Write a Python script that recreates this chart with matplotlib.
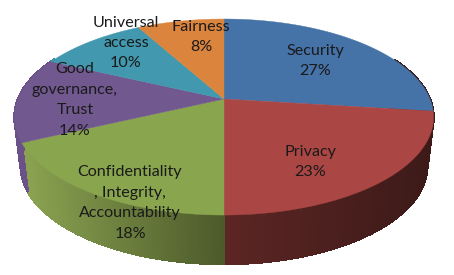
import numpy as np
import matplotlib
matplotlib.use('Agg')
import matplotlib.pyplot as plt
from matplotlib.colors import to_rgb

labels = ['Security\n27%', 'Privacy\n23%', 'Confidentiality\n, Integrity,\nAccountability\n18%',
          'Good\ngovernance,\nTrust\n14%', 'Universal\naccess\n10%', 'Fairness\n8%']
values = [27, 23, 18, 14, 10, 8]
colors = ['#4572a7', '#aa4643', '#89a54e', '#71588f', '#4198af', '#db843d']

# side wall colours, (left end, right end) of the gradient
side_colors = [('#3a1a18', '#3a1a18'), ('#5c2624', '#3c1a18'), ('#8ba351', '#4c5a2a'),
               ('#6a5288', '#6a5288'), ('#3a8aa0', '#3a8aa0'), ('#c87838', '#c87838')]
label_x = [315, 310, 130, 75, 126, 201]
label_y = [61, 162, 203, 100, 43, 37]

# tilted pie, a circle seen in perspective
cx, cy = 224, 99
a, b, k = 206, 94.7, 0.184
depth, shrink = 49, 0.97


def rim(t):
    d = 1 + k * np.sin(t)
    return a * np.cos(t) / d, -b * np.sin(t) / d


fig = plt.figure(figsize=(4.54, 2.75), dpi=100)
ax = fig.add_axes([0, 0, 1, 1])
ax.set_xlim(0, 454)
ax.set_ylim(275, 0)
ax.axis('off')

fracs = np.cumsum([0] + values) / sum(values)
starts = np.pi / 2 - 2 * np.pi * fracs[:-1]
ends = np.pi / 2 - 2 * np.pi * fracs[1:]

# side wall first, the top face covers whatever sits behind it
for s, e, pair in zip(starts, ends, side_colors):
    ts = np.linspace(s, e, 120)
    c0, c1 = np.array(to_rgb(pair[0])), np.array(to_rgb(pair[1]))
    xs, ys = rim(ts)
    xmin, xmax = xs.min(), xs.max()
    for i in range(len(ts) - 1):
        if np.sin(ts[i]) > 0.45:
            continue
        f = ((xs[i] - xmin) / (xmax - xmin)) if xmax > xmin else 0
        col = c0 + (c1 - c0) * f
        px = [xs[i], xs[i + 1], xs[i + 1] * shrink, xs[i] * shrink]
        py = [ys[i], ys[i + 1], ys[i + 1] + depth, ys[i] + depth]
        ax.fill(cx + np.array(px), cy + np.array(py), facecolor=col, edgecolor=col,
                lw=1.0, antialiased=False, zorder=1)

# top face
for s, e, col in zip(starts, ends, colors):
    ts = np.linspace(s, e, 150)
    xs, ys = rim(ts)
    ax.fill(np.r_[cx, cx + xs], np.r_[cy, cy + ys], color=col, lw=0.3, zorder=2)

for txt, x, y in zip(labels, label_x, label_y):
    ax.text(x, y, txt, ha='center', va='center', fontsize=11.6, family='Lato',
            color='#1a1a1a', linespacing=1.58, zorder=3)

fig.savefig('out.png', dpi=100)
